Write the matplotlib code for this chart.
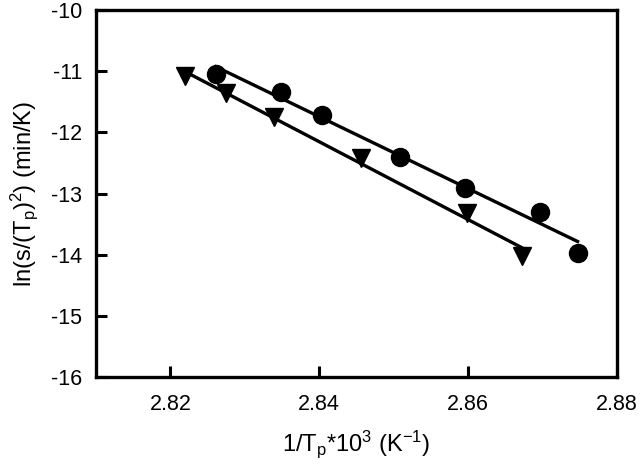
import numpy as np
import matplotlib
matplotlib.use("Agg")
import matplotlib.pyplot as plt

plt.rcParams['font.family'] = ['Liberation Sans', 'DejaVu Sans']
plt.rcParams['mathtext.fontset'] = 'custom'
plt.rcParams['mathtext.rm'] = 'Liberation Sans'
plt.rcParams['mathtext.it'] = 'Liberation Sans'

circle_x = [2.8261, 2.8349, 2.8403, 2.8509, 2.8596, 2.8697, 2.8747]
circle_y = [-11.05, -11.34, -11.72, -12.40, -12.91, -13.30, -13.97]
tri_x = [2.8220, 2.8275, 2.8339, 2.8456, 2.8599, 2.8672]
tri_y = [-11.08, -11.36, -11.75, -12.42, -13.32, -14.02]

xticks = [2.82, 2.84, 2.86, 2.88]
yticks = [-16, -15, -14, -13, -12, -11, -10]

fig = plt.figure(figsize=(6.4, 4.68), dpi=100)
ax = fig.add_axes([96/640, 1-377/468, (617-96)/640, (377-10)/468])

for xs, ys, m in [(circle_x, circle_y, 'o'), (tri_x, tri_y, 'v')]:
    xs = np.array(xs); ys = np.array(ys)
    k, b = np.polyfit(xs, ys, 1)
    xl = np.array([xs.min(), xs.max()])
    ax.plot(xl, k*xl + b, color='black', lw=2.4, zorder=2)
    ax.plot(xs, ys, linestyle='none', marker=m, color='black',
            markersize=13, zorder=3)

ax.set_xlim(2.81, 2.88)
ax.set_ylim(-16, -10)
ax.set_xticks(xticks)
ax.set_yticks(yticks)
ax.set_xticklabels(['2.82', '2.84', '2.86', '2.88'])
ax.set_yticklabels([str(v) for v in yticks])
for s in ax.spines.values():
    s.set_linewidth(2.4)
ax.tick_params(direction='in', length=8, width=2.2, labelsize=15.5)
ax.tick_params(axis='x', pad=12)
ax.tick_params(axis='y', pad=10)
ax.set_xlabel(r'1/T$_\mathregular{p}$*10$^\mathregular{3}$ (K$^\mathregular{-1}$)', fontsize=17, labelpad=10)
ax.set_ylabel(r'ln(s/(T$_\mathregular{p}$)$^\mathregular{2}$) (min/K)', fontsize=17, labelpad=8)

fig.savefig('out.png', dpi=100)
